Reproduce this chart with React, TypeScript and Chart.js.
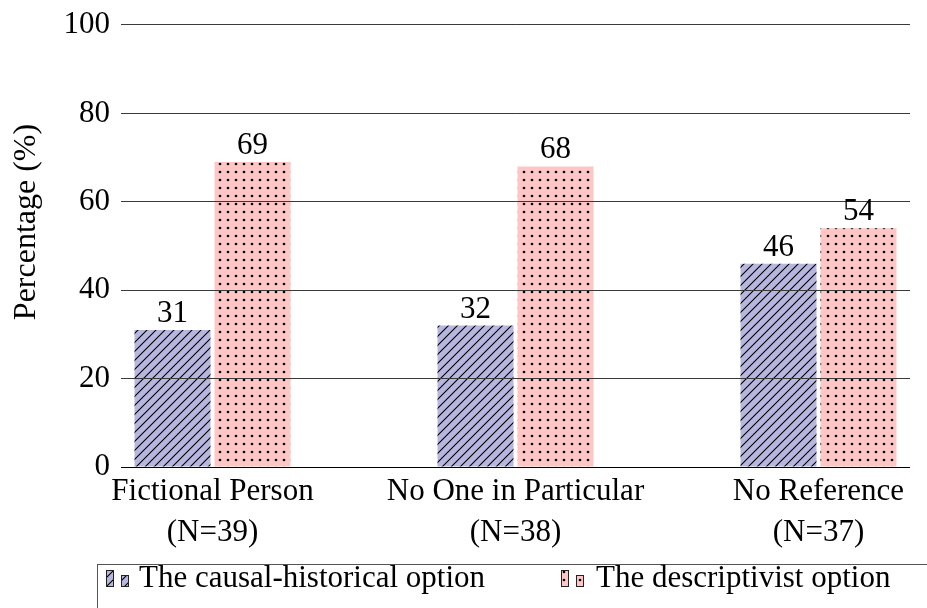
import React, { useEffect, useRef } from 'react';
import { Chart, registerables } from 'chart.js';

Chart.register(...registerables);

const categories: string[][] = [
  ['Fictional Person', '(N=39)'],
  ['No One in Particular', '(N=38)'],
  ['No Reference', '(N=37)'],
];
const causalValues = [31, 32, 46];
const descriptivistValues = [69, 68, 54];
const seriesNames = ['The causal-historical option', 'The descriptivist option'];
const yTicks = [0, 20, 40, 60, 80, 100];
const yTitle = 'Percentage (%)';

const FONT = '"Liberation Serif", "Times New Roman", serif';
const AXIS_SIZE = 31;
const LEGEND_SIZE = 31;

function makeLines(ctx: CanvasRenderingContext2D): CanvasPattern {
  const n = 9;
  const c = document.createElement('canvas');
  c.width = n;
  c.height = n;
  const g = c.getContext('2d')!;
  g.fillStyle = '#b6b6de';
  g.fillRect(0, 0, n, n);
  g.strokeStyle = '#000';
  g.lineWidth = 1.1;
  g.beginPath();
  g.moveTo(-2, n + 2);
  g.lineTo(n + 2, -2);
  g.moveTo(-2, 2);
  g.lineTo(2, -2);
  g.moveTo(n - 2, n + 2);
  g.lineTo(n + 2, n - 2);
  g.stroke();
  return ctx.createPattern(c, 'repeat')!;
}

function makeDots(ctx: CanvasRenderingContext2D): CanvasPattern {
  const c = document.createElement('canvas');
  c.width = 8;
  c.height = 8;
  const g = c.getContext('2d')!;
  g.fillStyle = '#ffc6c6';
  g.fillRect(0, 0, 8, 8);
  g.fillStyle = '#000';
  g.beginPath();
  g.arc(4, 4, 1.35, 0, Math.PI * 2);
  g.fill();
  return ctx.createPattern(c, 'repeat')!;
}

export default function App() {
  const ref = useRef<HTMLCanvasElement | null>(null);

  useEffect(() => {
    document.body.style.margin = '0';
    const canvas = ref.current!;
    const ctx = canvas.getContext('2d')!;
    const linesPattern = makeLines(ctx);
    const dotsPattern = makeDots(ctx);
    const patterns = [linesPattern, dotsPattern];

    const overlay = {
      id: 'overlay',
      afterDatasetsDraw(chart: any) {
        chart.scales.y.drawGrid(chart.chartArea);
        const c = chart.ctx;
        c.save();
        c.fillStyle = '#000';
        c.font = `${AXIS_SIZE}px ${FONT}`;
        c.textAlign = 'center';
        c.textBaseline = 'alphabetic';
        chart.data.datasets.forEach((ds: any, di: number) => {
          const meta = chart.getDatasetMeta(di);
          meta.data.forEach((bar: any, i: number) => {
            c.fillText(String(ds.data[i].y), bar.x, bar.y - 8);
          });
        });
        c.restore();
      },
      afterDraw(chart: any) {
        const c = chart.ctx;
        c.save();
        // y axis title
        c.translate(27, 222);
        c.rotate(-Math.PI / 2);
        c.fillStyle = '#000';
        c.font = `${AXIS_SIZE + 1}px ${FONT}`;
        c.textAlign = 'center';
        c.textBaseline = 'middle';
        c.fillText(yTitle, 0, 0);
        c.restore();

        // legend box (clipped by canvas edge, like the reference)
        c.save();
        c.strokeStyle = '#555';
        c.lineWidth = 1;
        c.strokeRect(97.5, 564.5, 1000, 100);
        const entries = [
          { x: 106, textX: 139 },
          { x: 561, textX: 596 },
        ];
        entries.forEach((e, i) => {
          c.fillStyle = patterns[i];
          c.strokeStyle = '#222';
          c.lineWidth = 1;
          c.fillRect(e.x, 570, 8, 17);
          c.strokeRect(e.x + 0.5, 570.5, 7, 16);
          c.fillRect(e.x + 15, 575, 8, 12);
          c.strokeRect(e.x + 15.5, 575.5, 7, 11);
          c.fillStyle = '#000';
          c.font = `${LEGEND_SIZE}px ${FONT}`;
          c.textAlign = 'left';
          c.textBaseline = 'alphabetic';
          c.fillText(seriesNames[i], e.textX, 587);
        });
        c.restore();
      },
    };

    const chart = new Chart(canvas, {
      type: 'bar',
      data: {
        datasets: [
          {
            label: seriesNames[0],
            data: causalValues.map((v, i) => ({ x: i, y: v })),
            backgroundColor: linesPattern,
            borderWidth: 0,
            categoryPercentage: 0.528,
            barPercentage: 0.95,
          },
          {
            label: seriesNames[1],
            data: descriptivistValues.map((v, i) => ({ x: i, y: v })),
            backgroundColor: dotsPattern,
            borderWidth: 0,
            categoryPercentage: 0.528,
            barPercentage: 0.95,
          },
        ],
      } as any,
      options: {
        responsive: false,
        animation: false,
        layout: { padding: { left: 0, right: 17, top: 21, bottom: 0 } },
        plugins: {
          legend: { display: false },
          tooltip: { enabled: false },
        },
        scales: {
          x: {
            type: 'linear',
            min: -0.302,
            max: 2.302,
            offset: false,
            afterBuildTicks: (s: any) => {
              s.ticks = categories.map((_, i) => ({ value: i }));
            },
            afterFit: (s: any) => {
              s.height = 141;
            },
            grid: { display: false, drawTicks: false },
            border: { display: false },
            ticks: {
              font: { family: FONT, size: AXIS_SIZE, lineHeight: 1.3 },
              color: '#000',
              padding: 5,
              maxRotation: 0,
              autoSkip: false,
              callback: (v: any) => categories[v as number],
            },
          },
          y: {
            min: 0,
            max: 100,
            afterBuildTicks: (s: any) => {
              s.ticks = yTicks.map((v) => ({ value: v }));
            },
            afterFit: (s: any) => {
              s.width = 121;
            },
            grid: {
              color: (c: any) => (c.tick && c.tick.value === 0 ? '#000' : '#3a3a3a'),
              lineWidth: 1,
              drawTicks: false,
            },
            border: { display: false },
            ticks: {
              font: { family: FONT, size: AXIS_SIZE, lineHeight: 0.9 },
              color: '#000',
              padding: 11,
            },
          },
        },
      } as any,
      plugins: [overlay],
    });

    return () => chart.destroy();
  }, []);

  return <canvas ref={ref} width={927} height={608} style={{ display: 'block' }} />;
}
